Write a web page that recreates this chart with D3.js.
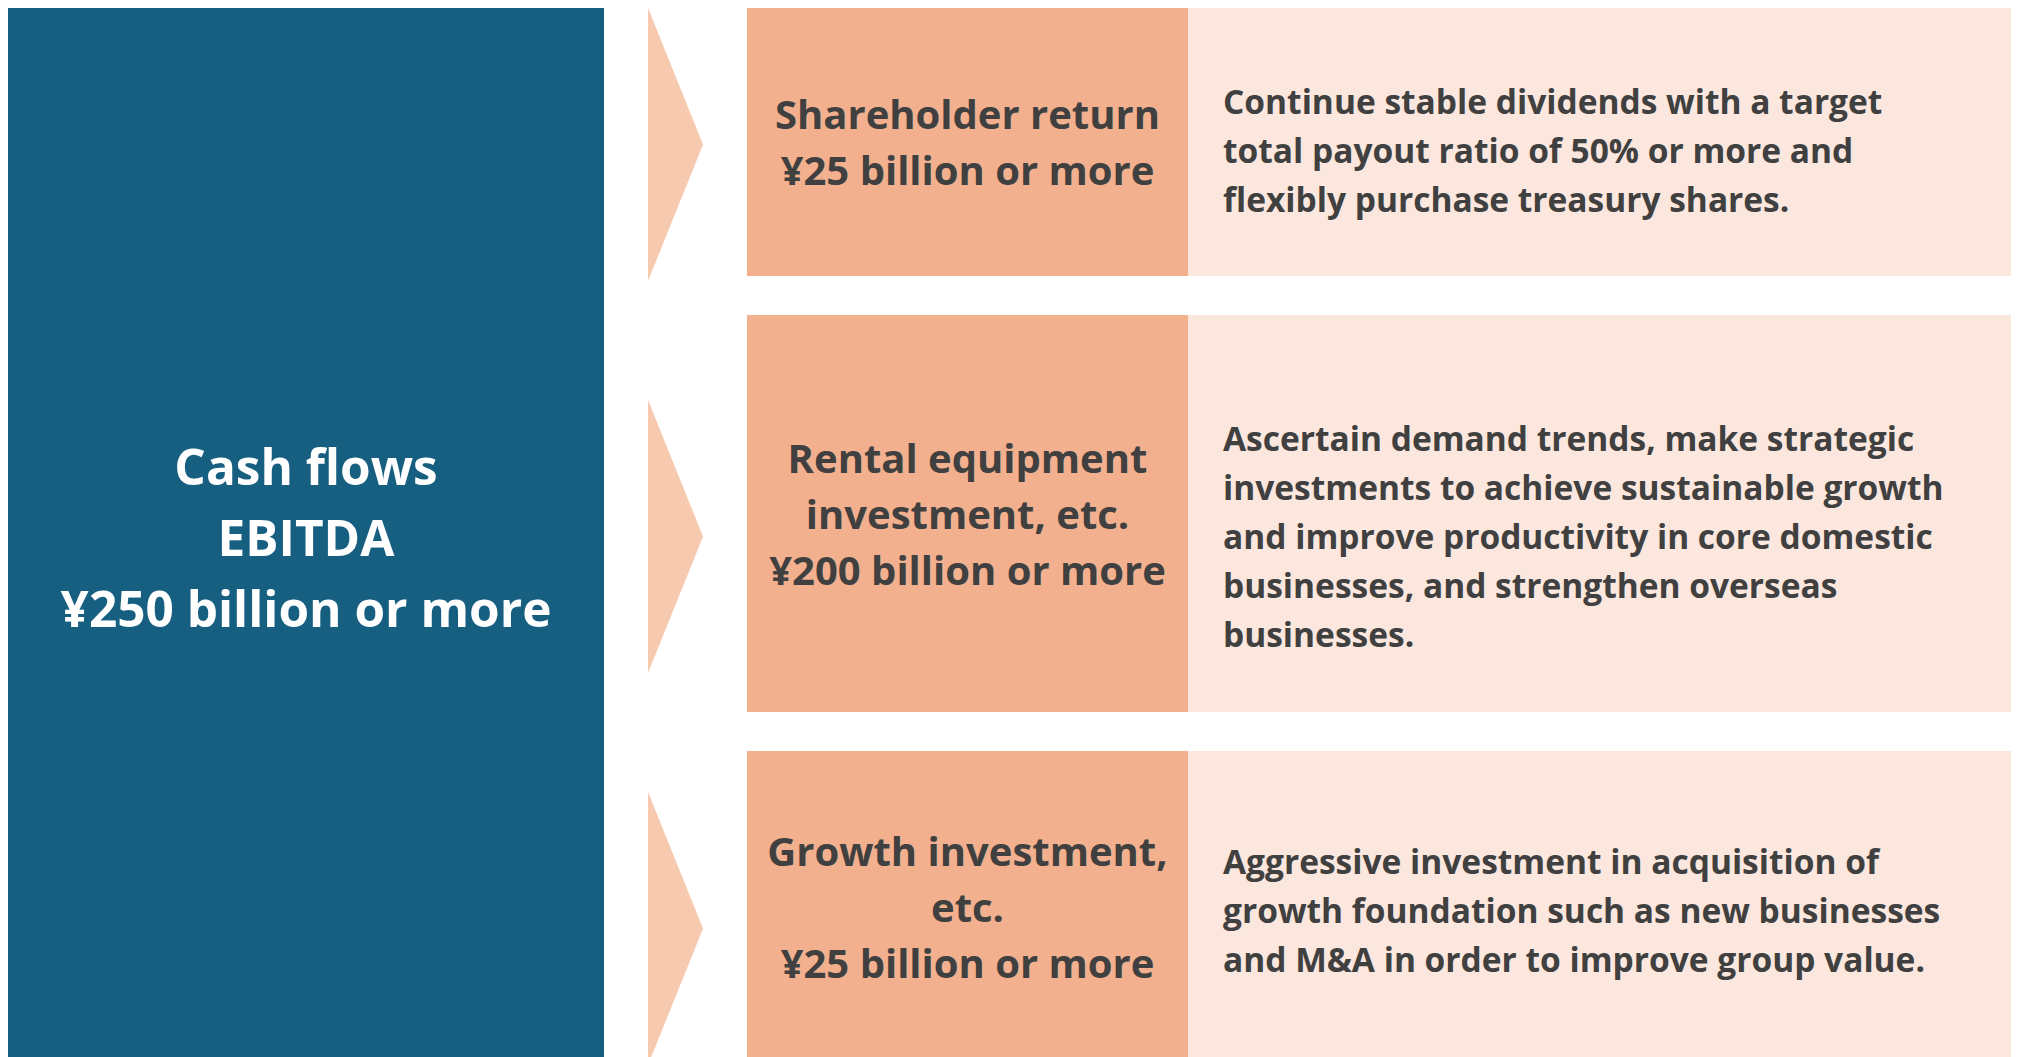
<!DOCTYPE html>
<meta charset="utf-8">
<head>
  <title>Cash flow allocation</title>
  <style>
    body { margin: 0; background: #fff; }
    text { font-family: "Open Sans", Lato, sans-serif; font-weight: 700; }
  </style>
</head>
<body>
  <div class="container"></div>
</body>

<script src="https://cdnjs.cloudflare.com/ajax/libs/d3/7.8.5/d3.min.js"></script>

<script type="text/javascript">

  // Source block
  var sourceLines = ["Cash flows", "EBITDA", "¥250 billion or more"];

  // Allocation categories (middle column)
  var allocLabels = [
    ["Shareholder return", "¥25 billion or more"],
    ["Rental equipment", "investment, etc.", "¥200 billion or more"],
    ["Growth investment,", "etc.", "¥25 billion or more"]
  ];

  // Policy notes (right column)
  var allocNotes = [
    ["Continue stable dividends with a target",
     "total payout ratio of 50% or more and",
     "flexibly purchase treasury shares."],
    ["Ascertain demand trends, make strategic",
     "investments to achieve sustainable growth",
     "and improve productivity in core domestic",
     "businesses, and strengthen overseas",
     "businesses."],
    ["Aggressive investment in acquisition of",
     "growth foundation such as new businesses",
     "and M&A in order to improve group value."]
  ];

  var width = 2018;
  var height = 1057;

  // layout of the diagram (pixels)
  var rowTop = [8, 315, 751];
  var rowBottom = [276, 712, 1062];
  var noteShift = [21, 35, 16];

  var svg = d3.select(".container").append("svg")
    .attr("width", width)
    .attr("height", height);

  // columns
  var x = d3.scaleOrdinal()
    .domain(["source", "arrow", "label", "note"])
    .range([8, 648, 747, 1188]);
  var colEnd = { source: 604, arrow: 703, label: 1188, note: 2011 };

  var rows = allocLabels.map(function (d, i) {
    return { labels: d, notes: allocNotes[i], top: rowTop[i], bottom: rowBottom[i], shift: noteShift[i], i: i };
  });

  // big blue block on the left
  svg.append("rect")
    .attr("x", x("source"))
    .attr("y", 8)
    .attr("width", colEnd.source - x("source"))
    .attr("height", height - 8)
    .attr("fill", "#175f80");

  var srcCx = (x("source") + colEnd.source) / 2;
  svg.append("text")
    .attr("text-anchor", "middle")
    .attr("fill", "#fff")
    .attr("font-size", 49.5)
    .selectAll("tspan")
    .data(sourceLines)
    .enter()
    .append("tspan")
    .attr("x", srcCx)
    .attr("y", function (d, i) { return 485 + i * 71; })
    .text(function (d) { return d; });

  // arrows
  var arrowY = d3.scaleLinear().domain([0, 1]).range([8, 400]);
  svg.selectAll("path.arrow")
    .data(rows)
    .enter()
    .append("path")
    .attr("class", "arrow")
    .attr("fill", "#f7c9af")
    .attr("d", function (d) {
      var t = arrowY(d.i);
      return "M" + x("arrow") + "," + t +
        "L" + colEnd.arrow + "," + (t + 136.5) +
        "L" + x("arrow") + "," + (t + 273) + "Z";
    });

  var row = svg.selectAll("g.row")
    .data(rows)
    .enter()
    .append("g")
    .attr("class", "row");

  row.append("rect")
    .attr("x", x("label"))
    .attr("y", function (d) { return d.top; })
    .attr("width", colEnd.label - x("label"))
    .attr("height", function (d) { return d.bottom - d.top; })
    .attr("fill", "#f2b08e");

  row.append("rect")
    .attr("x", x("note"))
    .attr("y", function (d) { return d.top; })
    .attr("width", colEnd.note - x("note"))
    .attr("height", function (d) { return d.bottom - d.top; })
    .attr("fill", "#fbe7dd");

  // category text, centred
  var labelGap = 56;
  row.append("text")
    .attr("text-anchor", "middle")
    .attr("fill", "#404040")
    .attr("font-size", 40)
    .each(function (d) {
      var mid = (d.top + d.bottom) / 2 + 15;
      var first = mid - (d.labels.length - 1) * labelGap / 2;
      d3.select(this).selectAll("tspan")
        .data(d.labels)
        .enter()
        .append("tspan")
        .attr("x", (x("label") + colEnd.label) / 2)
        .attr("y", function (s, j) { return first + j * labelGap; })
        .text(function (s) { return s; });
    });

  // note text, left aligned
  var noteGap = 49;
  row.append("text")
    .attr("fill", "#404040")
    .attr("font-size", 33.5)
    .each(function (d) {
      var mid = (d.top + d.bottom) / 2 + d.shift;
      var first = mid - (d.notes.length - 1) * noteGap / 2;
      d3.select(this).selectAll("tspan")
        .data(d.notes)
        .enter()
        .append("tspan")
        .attr("x", x("note") + 35)
        .attr("y", function (s, j) { return first + j * noteGap; })
        .text(function (s) { return s; });
    });

</script>
